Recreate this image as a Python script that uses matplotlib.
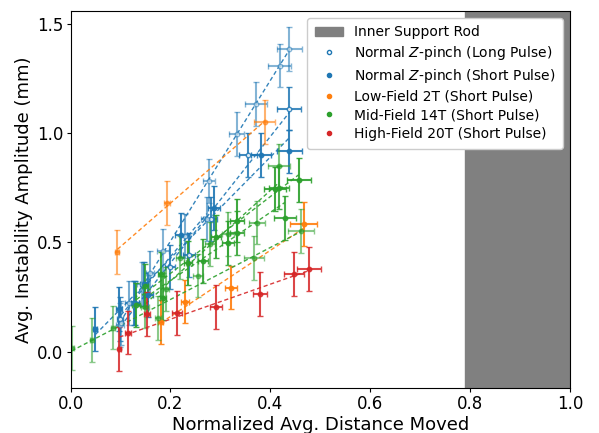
import matplotlib
matplotlib.use("Agg")
import matplotlib.pyplot as plt
from matplotlib.patches import Patch
from matplotlib.lines import Line2D
import numpy as np

# inner support rod region (normalized distance)
rod_start = 0.79

# Normal Z-pinch, long pulse (open markers), one list per shot
lp1_x = [0.099, 0.143, 0.186, 0.278, 0.333, 0.371, 0.419, 0.438]
lp1_y = [0.122, 0.308, 0.460, 0.781, 0.994, 1.133, 1.308, 1.383]
lp1_xe = [0.008, 0.010, 0.012, 0.012, 0.015, 0.022, 0.023, 0.025]
lp2_x = [0.100, 0.127, 0.199, 0.238, 0.281, 0.356, 0.438]
lp2_y = [0.148, 0.224, 0.386, 0.442, 0.605, 0.899, 1.111]
lp2_xe = [0.006, 0.010, 0.010, 0.012, 0.012, 0.018, 0.024]
lp3_x = [0.101, 0.118, 0.159, 0.229, 0.273]
lp3_y = [0.130, 0.224, 0.358, 0.529, 0.606]
lp3_xe = [0.005, 0.008, 0.008, 0.010, 0.012]

# Normal Z-pinch, short pulse (filled markers)
sp1_x = [0.050, 0.098, 0.129, 0.148, 0.156, 0.221, 0.288, 0.381, 0.438]
sp1_y = [0.102, 0.195, 0.221, 0.308, 0.259, 0.534, 0.656, 0.899, 0.915]
sp1_xe = [0.004, 0.006, 0.008, 0.008, 0.010, 0.012, 0.012, 0.020, 0.025]

# Low-Field 2T
o1_x = [0.094, 0.193, 0.389]
o1_y = [0.457, 0.681, 1.049]
o1_xe = [0.004, 0.006, 0.021]
o2_x = [0.181, 0.229, 0.321, 0.467]
o2_y = [0.137, 0.229, 0.293, 0.585]
o2_xe = [0.005, 0.008, 0.012, 0.027]

# Mid-Field 14T
g1_x = [0.002, 0.044, 0.086, 0.176, 0.256, 0.367, 0.461]
g1_y = [0.016, 0.053, 0.110, 0.153, 0.348, 0.427, 0.553]
g1_xe = [0.006, 0.004, 0.004, 0.006, 0.010, 0.020, 0.026]
g2_x = [0.132, 0.181, 0.236, 0.291, 0.333, 0.409, 0.457]
g2_y = [0.213, 0.355, 0.404, 0.526, 0.599, 0.744, 0.784]
g2_xe = [0.008, 0.006, 0.008, 0.010, 0.014, 0.022, 0.024]
g3_x = [0.150, 0.191, 0.219, 0.279, 0.315, 0.374, 0.418]
g3_y = [0.206, 0.285, 0.430, 0.491, 0.538, 0.590, 0.849]
g3_xe = [0.008, 0.006, 0.008, 0.010, 0.012, 0.016, 0.022]
g4_x = [0.149, 0.186, 0.266, 0.315, 0.333, 0.418, 0.429]
g4_y = [0.300, 0.244, 0.416, 0.496, 0.544, 0.750, 0.610]
g4_xe = [0.006, 0.006, 0.010, 0.012, 0.014, 0.020, 0.022]

# High-Field 20T
r1_x = [0.098, 0.116, 0.154, 0.214, 0.291, 0.379, 0.448, 0.478]
r1_y = [0.012, 0.087, 0.171, 0.178, 0.204, 0.265, 0.355, 0.377]
r1_xe = [0.003, 0.006, 0.006, 0.010, 0.012, 0.014, 0.020, 0.024]

y_err = 0.10

blue, orange, green, red = "#1f77b4", "#ff7f0e", "#2ca02c", "#d62728"

shots = [
    (lp1_x, lp1_y, lp1_xe, blue, True, 0.55),
    (lp2_x, lp2_y, lp2_xe, blue, True, 0.85),
    (lp3_x, lp3_y, lp3_xe, blue, True, 0.6),
    (sp1_x, sp1_y, sp1_xe, blue, False, 0.9),
    (o1_x, o1_y, o1_xe, orange, False, 0.6),
    (o2_x, o2_y, o2_xe, orange, False, 0.9),
    (g1_x, g1_y, g1_xe, green, False, 0.55),
    (g2_x, g2_y, g2_xe, green, False, 0.9),
    (g3_x, g3_y, g3_xe, green, False, 0.6),
    (g4_x, g4_y, g4_xe, green, False, 0.85),
    (r1_x, r1_y, r1_xe, red, False, 0.85),
]

fig = plt.figure(figsize=(5.99, 4.33), dpi=100)
ax = fig.add_axes([0.1177, 0.104, 0.834, 0.871])

ax.axvspan(rod_start, 1.0, color="gray", zorder=0)

for x, y, xe, c, hollow, a in shots:
    x = np.array(x)
    y = np.array(y)
    ax.errorbar(x, y, xerr=xe, yerr=y_err, fmt="o", color=c, ms=3.2,
                mfc="white" if hollow else c, mec=c, mew=1.0,
                elinewidth=1.5, capsize=2.5, capthick=1.2, alpha=a)
    # linear fit of this shot
    k, b = np.polyfit(x, y, 1)
    xs = np.array([x.min(), x.max()])
    ax.plot(xs, k * xs + b, "--", color=c, lw=1.0, dashes=(3, 2), alpha=0.9)

ax.set_xlim(0, 1)
ax.set_ylim(-0.166, 1.558)
ax.set_xticks([0.0, 0.2, 0.4, 0.6, 0.8, 1.0])
ax.set_yticks([0.0, 0.5, 1.0, 1.5])
ax.tick_params(labelsize=12, length=2.6, pad=2.4)
ax.set_xlabel("Normalized Avg. Distance Moved", fontsize=13, labelpad=2)
ax.set_ylabel("Avg. Instability Amplitude (mm)", fontsize=13, labelpad=3)

handles = [
    Patch(color="gray", label="Inner Support Rod"),
    Line2D([], [], ls="", marker="o", ms=3, mfc="white", mec=blue, mew=1,
           label="Normal $Z$-pinch (Long Pulse)"),
    Line2D([], [], ls="", marker="o", ms=3, color=blue,
           label="Normal $Z$-pinch (Short Pulse)"),
    Line2D([], [], ls="", marker="o", ms=3, color=orange,
           label="Low-Field 2T (Short Pulse)"),
    Line2D([], [], ls="", marker="o", ms=3, color=green,
           label="Mid-Field 14T (Short Pulse)"),
    Line2D([], [], ls="", marker="o", ms=3, color=red,
           label="High-Field 20T (Short Pulse)"),
]
ax.legend(handles=handles, loc="upper right", fontsize=10, framealpha=1.0,
          borderaxespad=0.5, borderpad=0.55, handletextpad=0.8,
          labelspacing=0.34)

fig.savefig("out.png", dpi=100)
